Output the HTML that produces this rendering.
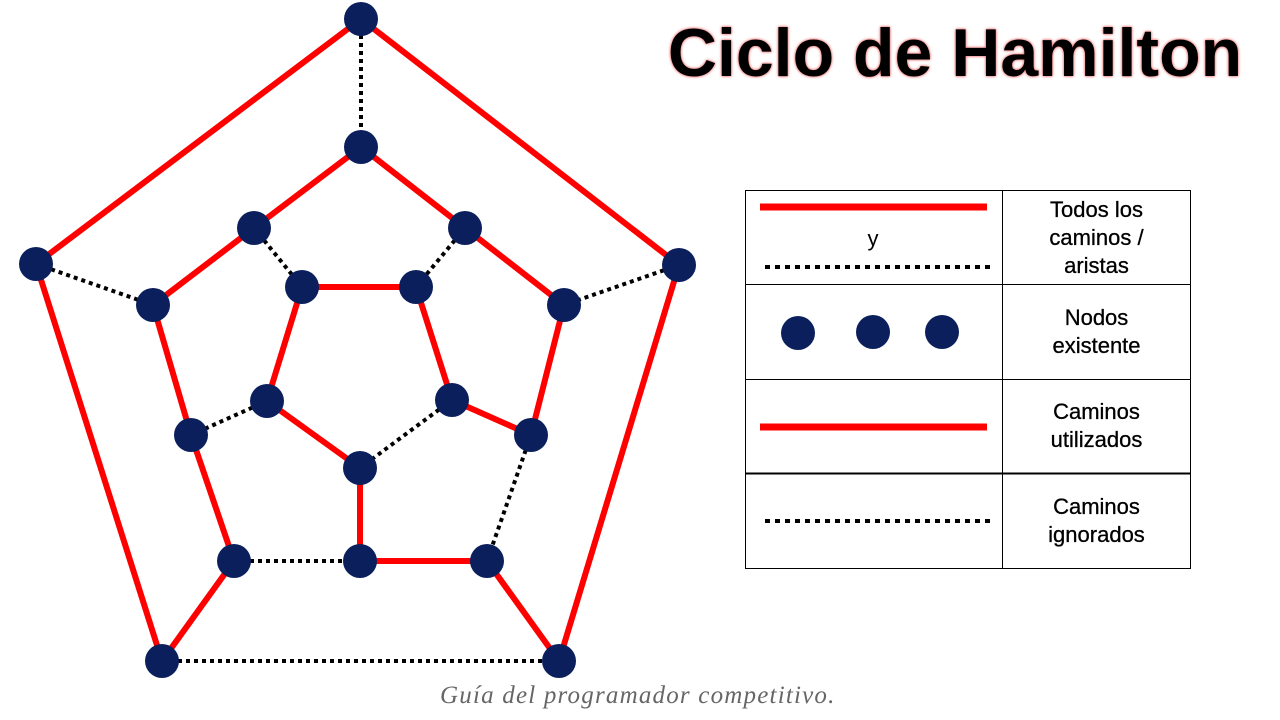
<!DOCTYPE html>
<html><head><meta charset="utf-8"><style>
body{margin:0;width:1280px;height:720px;background:#fff;overflow:hidden;position:relative;font-family:"Liberation Sans",sans-serif}
.t{position:absolute;left:1003px;width:187px;text-align:center;font-size:22px;line-height:28px;color:#000;-webkit-text-stroke:0.3px #000}
</style></head><body>
<svg width="1280" height="720" style="position:absolute;left:0;top:0">
<g stroke="#f00" stroke-width="6" fill="none">
<line x1="361" y1="19" x2="36" y2="264"/><line x1="361" y1="19" x2="679" y2="265"/>
<line x1="36" y1="264" x2="162" y2="661"/><line x1="679" y1="265" x2="559" y2="661"/>
<line x1="162" y1="661" x2="234" y2="561"/><line x1="559" y1="661" x2="487" y2="561"/>
<line x1="361" y1="147" x2="254" y2="228"/><line x1="361" y1="147" x2="465" y2="228"/>
<line x1="254" y1="228" x2="153" y2="305"/><line x1="465" y1="228" x2="564" y2="305"/>
<line x1="153" y1="305" x2="191" y2="435"/><line x1="564" y1="305" x2="531" y2="435"/>
<line x1="191" y1="435" x2="234" y2="561"/><line x1="531" y1="435" x2="452" y2="400"/>
<line x1="452" y1="400" x2="416" y2="287"/><line x1="416" y1="287" x2="302" y2="287"/>
<line x1="302" y1="287" x2="267" y2="401"/><line x1="267" y1="401" x2="360" y2="468"/>
<line x1="360" y1="468" x2="360" y2="561"/><line x1="360" y1="561" x2="487" y2="561"/>
</g>
<g stroke="#000" stroke-width="4" stroke-dasharray="4 4" fill="none">
<line x1="361" y1="19" x2="361" y2="147"/><line x1="36" y1="264" x2="153" y2="305"/>
<line x1="679" y1="265" x2="564" y2="305"/><line x1="254" y1="228" x2="302" y2="287"/>
<line x1="465" y1="228" x2="416" y2="287"/><line x1="267" y1="401" x2="191" y2="435"/>
<line x1="452" y1="400" x2="360" y2="468"/><line x1="531" y1="435" x2="487" y2="561"/>
<line x1="234" y1="561" x2="360" y2="561"/><line x1="162" y1="661" x2="559" y2="661"/>
</g>
<g fill="#0b1f5c">
<circle cx="361" cy="19" r="17"/><circle cx="361" cy="147" r="17"/><circle cx="36" cy="264" r="17"/>
<circle cx="679" cy="265" r="17"/><circle cx="254" cy="228" r="17"/><circle cx="465" cy="228" r="17"/>
<circle cx="302" cy="287" r="17"/><circle cx="416" cy="287" r="17"/><circle cx="153" cy="305" r="17"/>
<circle cx="564" cy="305" r="17"/><circle cx="267" cy="401" r="17"/><circle cx="452" cy="400" r="17"/>
<circle cx="191" cy="435" r="17"/><circle cx="531" cy="435" r="17"/><circle cx="360" cy="468" r="17"/>
<circle cx="234" cy="561" r="17"/><circle cx="360" cy="561" r="17"/><circle cx="487" cy="561" r="17"/>
<circle cx="162" cy="661" r="17"/><circle cx="559" cy="661" r="17"/>
</g>
<g stroke="#000" stroke-width="1" fill="none">
<rect x="745.5" y="190.5" width="445" height="378"/>
<line x1="1002.5" y1="190" x2="1002.5" y2="568"/>
<line x1="745" y1="284.5" x2="1190" y2="284.5"/>
<line x1="745" y1="379.5" x2="1190" y2="379.5"/>
<line x1="745" y1="473.5" x2="1190" y2="473.5" stroke-width="2"/>
</g>
<line x1="760" y1="207" x2="987" y2="207" stroke="#f00" stroke-width="7"/>
<line x1="760" y1="427" x2="987" y2="427" stroke="#f00" stroke-width="7"/>
<g stroke="#000" stroke-width="4" stroke-dasharray="5 5">
<line x1="765" y1="267" x2="990" y2="267"/><line x1="765" y1="521" x2="990" y2="521"/>
</g>
<text x="873" y="246" font-family="Liberation Sans" font-size="22" text-anchor="middle">y</text>
<g fill="#0b1f5c"><circle cx="798" cy="333" r="17"/><circle cx="873" cy="332" r="17"/><circle cx="942" cy="332" r="17"/></g>
</svg>
<div style="position:absolute;left:655px;top:14px;width:600px;text-align:center;font-size:68px;font-weight:bold;color:#000;text-shadow:0 0 3px #e77,0 0 2px #e77">Ciclo de Hamilton</div>
<div class="t" style="top:196px">Todos los<br>caminos /<br>aristas</div>
<div class="t" style="top:304px">Nodos<br>existente</div>
<div class="t" style="top:398px">Caminos<br>utilizados</div>
<div class="t" style="top:493px">Caminos<br>ignorados</div>
<div style="position:absolute;left:440px;top:682px;font-family:'Liberation Serif',serif;font-style:italic;font-size:25px;letter-spacing:1.2px;color:#666">Guía del programador competitivo.</div>
</body></html>
